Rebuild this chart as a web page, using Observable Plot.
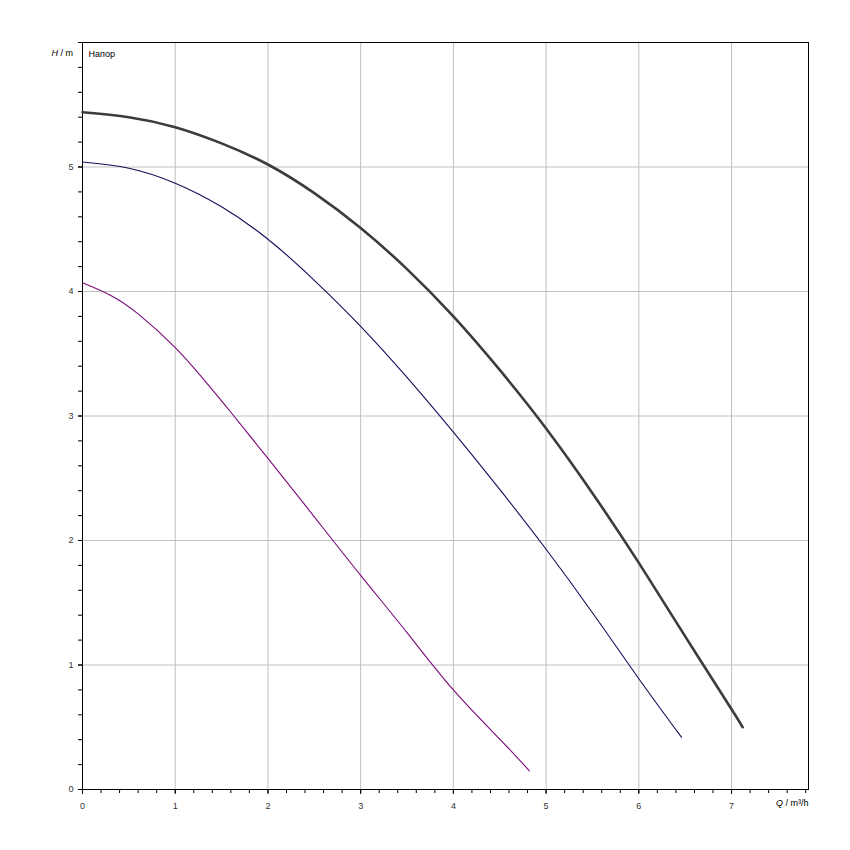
<!DOCTYPE html>
<html>
<head>
<meta charset="utf-8">
<script src="https://cdn.jsdelivr.net/npm/d3@7"></script>
<script src="https://cdn.jsdelivr.net/npm/@observablehq/plot@0.6"></script>
<style>
  html, body { margin: 0; padding: 0; background: #fff; }
  #chart svg { display: block; }
</style>
</head>
<body>
<div id="chart"></div>
<script>
// Curve 1 (thick dark grey)
const q1 = [0, 0.5, 1, 1.5, 2, 2.5, 3, 3.5, 4, 4.5, 5, 5.5, 6, 6.5, 7, 7.12];
const h1 = [5.44, 5.40, 5.32, 5.19, 5.02, 4.79, 4.51, 4.18, 3.80, 3.37, 2.90, 2.38, 1.82, 1.23, 0.645, 0.50];
// Curve 2 (thin dark navy)
const q2 = [0, 0.5, 1, 1.5, 2, 2.5, 3, 3.5, 4, 4.5, 5, 5.5, 6, 6.46];
const h2 = [5.04, 4.99, 4.87, 4.68, 4.42, 4.09, 3.72, 3.31, 2.87, 2.41, 1.93, 1.42, 0.89, 0.42];
// Curve 3 (thin purple)
const q3 = [0, 0.3, 0.6, 1, 1.3, 1.6, 2, 2.5, 3, 3.5, 4, 4.5, 4.82];
const h3 = [4.07, 3.97, 3.82, 3.55, 3.30, 3.03, 2.66, 2.19, 1.72, 1.26, 0.80, 0.405, 0.15];

const xMajor = [0, 1, 2, 3, 4, 5, 6, 7];
const yMajor = [0, 1, 2, 3, 4, 5];
const xMinor = d3.range(0, 7.81, 0.2);
const yMinor = d3.range(0, 6.01, 0.2);

const toRows = (q, h) => q.map((v, i) => ({q: v, h: h[i]}));

const font = "'Liberation Sans', Arial, sans-serif";

const plot = Plot.plot({
  width: 850,
  height: 850,
  marginLeft: 82,
  marginRight: 42,
  marginTop: 42,
  marginBottom: 61,
  style: {fontFamily: font, fontSize: "9px", color: "#000", background: "#fff"},
  x: {domain: [0, 7.83]},
  y: {domain: [0, 6]},
  marks: [
    Plot.ruleX(xMajor.filter(d => d > 0), {stroke: "#c0c0c0", strokeWidth: 1, strokeOpacity: 1}),
    Plot.ruleY(yMajor.filter(d => d > 0), {stroke: "#c0c0c0", strokeWidth: 1, strokeOpacity: 1}),
    Plot.axisX({ticks: xMinor, tickSize: 4, tickFormat: () => "", stroke: "#000", label: null}),
    Plot.axisX({ticks: xMajor, tickSize: 5, tickPadding: 8, tickFormat: d3.format("d"), fill: "#333", label: null}),
    Plot.axisY({ticks: yMinor, tickSize: 4, tickFormat: () => "", stroke: "#000", label: null}),
    Plot.axisY({ticks: yMajor, tickSize: 4, tickPadding: 5, tickFormat: d3.format("d"), fill: "#333", label: null}),
    Plot.frame({stroke: "#000", strokeWidth: 1}),
    Plot.line(toRows(q1, h1), {x: "q", y: "h", stroke: "#3c3c3c", strokeWidth: 2.6, curve: "natural"}),
    Plot.line(toRows(q2, h2), {x: "q", y: "h", stroke: "#1c0a5a", strokeWidth: 1.1, curve: "natural"}),
    Plot.line(toRows(q3, h3), {x: "q", y: "h", stroke: "#7a0a7a", strokeWidth: 1.1, curve: "natural"}),
    Plot.text(["Напор"], {frameAnchor: "top-left", dx: 6, dy: 8, fill: "#000", fontSize: 9, textAnchor: "start"}),
    Plot.text(["H / m"], {frameAnchor: "top-left", dx: -31, dy: 7, fill: "#000", fontSize: 9, textAnchor: "start", className: "ylab"}),
    Plot.text(["Q / m³/h"], {frameAnchor: "bottom-right", dx: 0, dy: 16, fill: "#000", fontSize: 9, textAnchor: "end", className: "xlab"})
  ]
});

// Italicise the quantity symbols
d3.select(plot).selectAll(".ylab text, .xlab text").each(function() {
  const t = d3.select(this);
  const s = t.text();
  t.text("");
  t.append("tspan").attr("font-style", "italic").text(s[0]);
  t.append("tspan").text(s.slice(1));
});

document.getElementById("chart").appendChild(plot);
</script>
</body>
</html>
